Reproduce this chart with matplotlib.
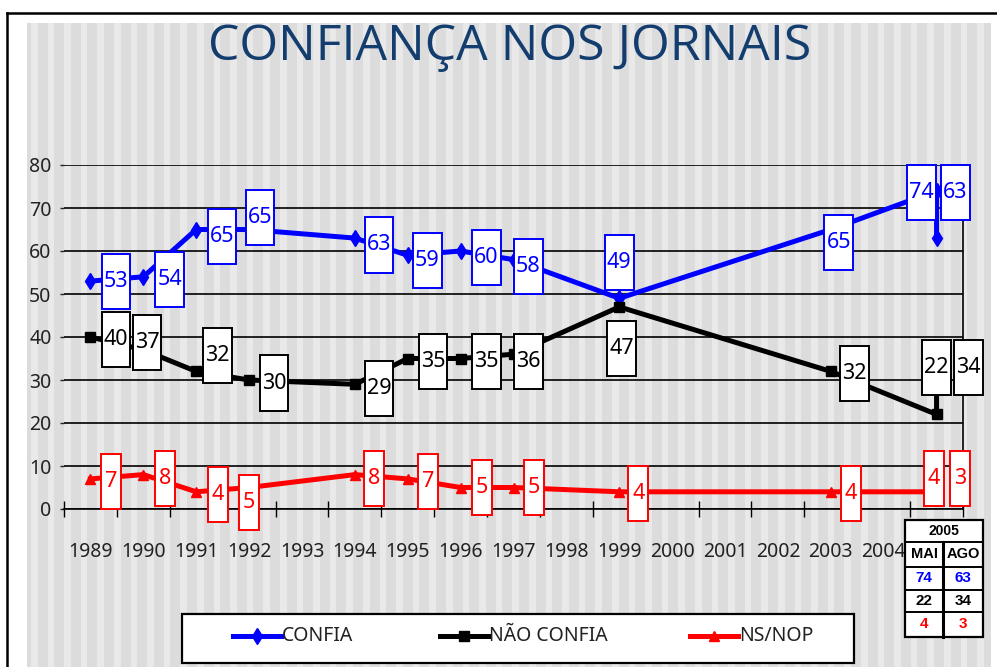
import matplotlib
matplotlib.use("Agg")
import matplotlib.pyplot as plt
from matplotlib.patches import Rectangle
from matplotlib.lines import Line2D

plt.rcParams['font.family'] = ['Noto Sans', 'DejaVu Sans']
plt.rcParams['font.stretch'] = 'condensed'

# dados
anos = [1989, 1990, 1991, 1992, 1994, 1995, 1996, 1997, 1999, 2003, 2005, 2005]
confia = [53, 54, 65, 65, 63, 59, 60, 58, 49, 65, 74, 63]
nao_confia = [40, 37, 32, 30, 29, 35, 35, 36, 47, 32, 22, 34]
ns_nop = [7, 8, 4, 5, 8, 7, 5, 5, 4, 4, 4, 3]
rotulos_x = [str(a) for a in range(1989, 2005)]
meses_2005 = ['MAI', 'AGO']

x = [a - 1989 for a in anos]

# deslocamento das caixas de rotulo (categoria, pontos)
off_azul = [(0.48, 0), (0.5, -0.7), (0.49, -1.7), (0.21, 2.7), (0.46, -1.6), (0.37, -1.1),
            (0.49, -1.6), (0.28, -1.5), (0.0, 8.4), (0.15, -3.1), (-0.28, -0.5), (0.36, 10.5)]
off_preto = [(0.48, -0.5), (0.07, 1.8), (0.4, 3.6), (0.47, -0.7), (0.46, -0.9), (0.48, -0.8),
             (0.49, -0.8), (0.28, -1.8), (0.04, -9.6), (0.45, -0.4), (0.0, 10.8), (0.6, -1.2)]
off_verm = [(0.39, -0.7), (0.41, -0.8), (0.41, -0.7), (0.0, -3.4), (0.37, -0.8), (0.39, -0.7),
            (0.41, -0.1), (0.39, -0.1), (0.36, -0.5), (0.38, -0.3), (-0.05, 3.2), (0.44, 4.2)]

W, H = 997, 667
fig = plt.figure(figsize=(9.97, 6.67), dpi=100)


def fx(px):
    return px / W


def fy(py):
    return 1 - py / H


# moldura e fundo listrado
fig.patches.append(Rectangle((fx(27), 0), fx(991) - fx(27), fy(23), transform=fig.transFigure,
                             facecolor='#dcdcdc', edgecolor='none', zorder=-3))
p = 27 + 4
while p < 991:
    fig.patches.append(Rectangle((fx(p), 0), fx(6.5), fy(23), transform=fig.transFigure,
                                 facecolor='#e9e9e9', edgecolor='none', zorder=-2))
    p += 16.6
fig.lines.append(Line2D([fx(7), fx(7)], [0, fy(13)], transform=fig.transFigure, color='black', lw=1.8))
fig.lines.append(Line2D([fx(7), 1], [fy(13), fy(13)], transform=fig.transFigure, color='black', lw=1.8))

fig.text(fx(510), fy(47), 'CONFIANÇA NOS JORNAIS', ha='center', va='center', fontsize=36,
         color='#123d6e', family=['Open Sans', 'DejaVu Sans'], fontstretch='normal')

ax = fig.add_axes([fx(64), fy(509), fx(963) - fx(64), fy(165) - fy(509)])
ax.set_zorder(1)
ax.set_facecolor('none')
ax.set_xlim(-0.5, 16.5)
ax.set_ylim(0, 80)
ax.set_yticks(range(0, 81, 10))
ax.yaxis.grid(True, color='black', lw=1.2)
ax.set_axisbelow(True)
for s in ['left', 'top']:
    ax.spines[s].set_visible(False)
ax.spines['bottom'].set_linewidth(1.2)
ax.spines['right'].set_linewidth(1.2)
ax.tick_params(axis='y', length=3, width=1, pad=6, labelsize=14, colors='#222222')
ax.set_xticks(range(16))
ax.set_xticklabels(rotulos_x)
ax.set_xticks([i - 0.5 for i in range(18)], minor=True)
ax.tick_params(axis='x', which='major', length=0, pad=24, labelsize=14, labelcolor='#222222')
ax.tick_params(axis='x', which='minor', direction='inout', length=11, width=1)

series = [
    (confia, '#0000ff', 'd', 8, off_azul, 0.54, 'CONFIA'),
    (nao_confia, 'black', 's', 7, off_preto, 0.54, 'NÃO CONFIA'),
    (ns_nop, '#ff0000', '^', 7, off_verm, 0.38, 'NS/NOP'),
]
for vals, cor, mk, ms, offs, bw, nome in series:
    ax.plot(x, vals, color=cor, lw=3.6, marker=mk, markersize=ms, zorder=3, clip_on=False)
    for xi, v, (dx, dy) in zip(x, vals, offs):
        cx, cy = xi + dx, v + dy
        ax.add_patch(Rectangle((cx - bw / 2, cy - 6.4), bw, 12.8, facecolor='white',
                               edgecolor=cor, lw=1.4, zorder=4, clip_on=False))
        ax.text(cx, cy, str(v), ha='center', va='center', fontsize=15.5, color=cor, zorder=5)

# tabela 2005
tx0, tx1, txm = 905, 983, 943
rows = [520, 542, 567, 590, 612, 637]
fig.patches.append(Rectangle((fx(tx0), fy(rows[-1])), fx(tx1) - fx(tx0), fy(rows[0]) - fy(rows[-1]),
                             transform=fig.transFigure, facecolor='white', edgecolor='black', lw=1.6, zorder=2))
for r in rows[1:-1]:
    fig.lines.append(Line2D([fx(tx0), fx(tx1)], [fy(r), fy(r)], transform=fig.transFigure,
                            color='black', lw=1.4, zorder=3))
fig.lines.append(Line2D([fx(txm), fx(txm)], [fy(rows[1]), fy(rows[-1])], transform=fig.transFigure,
                        color='black', lw=2.2, zorder=3))
fonte_tab = dict(family=['Liberation Sans', 'DejaVu Sans'], fontstretch='normal', fontweight='bold')
fig.text(fx((tx0 + tx1) / 2), fy((rows[0] + rows[1]) / 2), '2005', ha='center', va='center',
         fontsize=10, zorder=4, **fonte_tab)
cols = [(tx0 + txm) / 2, (txm + tx1) / 2]
for j in range(2):
    fig.text(fx(cols[j]), fy((rows[1] + rows[2]) / 2), meses_2005[j], ha='center', va='center',
             fontsize=10.5, zorder=4, **fonte_tab)
    for k, (vals, cor) in enumerate([(confia, '#0000ff'), (nao_confia, 'black'), (ns_nop, '#ff0000')]):
        fig.text(fx(cols[j]), fy((rows[k + 2] + rows[k + 3]) / 2), str(vals[-2 + j]), ha='center',
                 va='center', fontsize=11, color=cor, zorder=4, **fonte_tab)

# legenda
fig.patches.append(Rectangle((fx(182), fy(663)), fx(854) - fx(182), fy(614) - fy(663),
                             transform=fig.transFigure, facecolor='white', edgecolor='black', lw=1.6, zorder=2))
for (vals, cor, mk, ms, offs, bw, nome), lx in zip(series, [233, 440, 690]):
    yy = fy(636)
    fig.lines.append(Line2D([fx(lx), fx(lx + 24), fx(lx + 48)], [yy, yy, yy], transform=fig.transFigure,
                            color=cor, lw=3.6, marker=mk, markersize=ms, markevery=[1], zorder=3))
    fig.text(fx(lx + 49), yy, nome, ha='left', va='center', fontsize=14, color='#222222', zorder=4)

fig.savefig('out.png', dpi=100)
